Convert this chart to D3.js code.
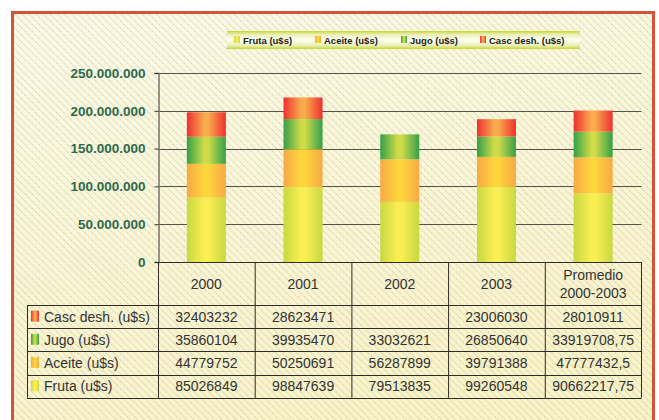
<!DOCTYPE html>
<html>
<head>
  <script src="https://d3js.org/d3.v7.min.js"></script>
  <style>
    body { margin: 0; background: #fff; }
    text { font-family: "Liberation Sans", Arial, sans-serif; }
  </style>
</head>
<body>
  <svg id="chart" width="659" height="420"></svg>
  <script>
    // datos
    const categories = ["2000", "2001", "2002", "2003", "Promedio 2000-2003"];
    const seriesNames = ["Fruta (u$s)", "Aceite (u$s)", "Jugo (u$s)", "Casc desh. (u$s)"];
    const fruta = [85026849, 98847639, 79513835, 99260548, 90662217.75];
    const aceite = [44779752, 50250691, 56287899, 39791388, 47777432.5];
    const jugo = [35860104, 39935470, 33032621, 26850640, 33919708.75];
    const casc = [32403232, 28623471, null, 23006030, 28010911];
    const yTicks = [0, 50000000, 100000000, 150000000, 200000000, 250000000];
    const yTickLabels = ["0", "50.000.000", "100.000.000", "150.000.000", "200.000.000", "250.000.000"];

    const seriesValues = [fruta, aceite, jugo, casc];
    // colores de degradado: borde, centro
    const colors = [
      ["#c9d83f", "#f9ef55"],
      ["#f8a944", "#fcd63c"],
      ["#35a04a", "#cfdc48"],
      ["#ee2f32", "#f9ac4c"]
    ];

    const svg = d3.select("#chart");
    const defs = svg.append("defs");

    // fondo
    const bg = defs.append("linearGradient").attr("id", "bg")
      .attr("x1", 0).attr("y1", 0).attr("x2", 0.3).attr("y2", 1);
    bg.append("stop").attr("offset", 0).attr("stop-color", "#fbf9e6");
    bg.append("stop").attr("offset", 1).attr("stop-color", "#f9f3c8");

    const hatch = defs.append("pattern").attr("id", "hatch")
      .attr("patternUnits", "userSpaceOnUse")
      .attr("width", 5).attr("height", 5)
      .attr("patternTransform", "rotate(-45)");
    hatch.append("line").attr("x1", 0).attr("y1", 0).attr("x2", 0).attr("y2", 5)
      .attr("stroke", "#b4b09c").attr("stroke-width", 1)
      .attr("stroke-dasharray", "1.2,0.8");

    colors.forEach((c, i) => {
      const g = defs.append("linearGradient").attr("id", "grad" + i)
        .attr("x1", 0).attr("x2", 1).attr("y1", 0).attr("y2", 0);
      g.append("stop").attr("offset", 0).attr("stop-color", c[0]);
      g.append("stop").attr("offset", 0.45).attr("stop-color", c[1]);
      g.append("stop").attr("offset", 0.55).attr("stop-color", c[1]);
      g.append("stop").attr("offset", 1).attr("stop-color", c[0]);
    });

    const legBg = defs.append("linearGradient").attr("id", "legbg")
      .attr("x1", 0).attr("x2", 0).attr("y1", 0).attr("y2", 1);
    legBg.append("stop").attr("offset", 0).attr("stop-color", "#c8d52e");
    legBg.append("stop").attr("offset", 0.18).attr("stop-color", "#e8eeb0");
    legBg.append("stop").attr("offset", 0.5).attr("stop-color", "#fffff4");
    legBg.append("stop").attr("offset", 0.82).attr("stop-color", "#e8eeb0");
    legBg.append("stop").attr("offset", 1).attr("stop-color", "#c8d52e");

    svg.append("rect").attr("x", 12).attr("y", 12).attr("width", 642).attr("height", 420)
      .attr("fill", "url(#bg)");
    svg.append("rect").attr("x", 12).attr("y", 12).attr("width", 642).attr("height", 420)
      .attr("fill", "url(#hatch)");
    svg.append("path").attr("d", "M12.5,430 V12.5 H653.5 V430")
      .attr("fill", "none").attr("stroke", "#d6533a").attr("stroke-width", 3);

    // escalas
    const plotLeft = 158, plotRight = 641.5, plotTop = 73, plotBottom = 262;
    const x = d3.scaleBand().domain(categories).range([plotLeft, plotRight]).padding(0);
    const y = d3.scaleLinear().domain([0, 250000000]).range([plotBottom, plotTop]);
    const barW = 39;

    // grilla
    svg.append("g").selectAll("line").data(yTicks.slice(1)).join("line")
      .attr("x1", plotLeft).attr("x2", plotRight)
      .attr("y1", d => Math.round(y(d)) + 0.5).attr("y2", d => Math.round(y(d)) + 0.5)
      .attr("stroke", "#55524b").attr("stroke-width", 1.2);

    // barras
    const table = categories.map((c, i) => {
      const row = { cat: c };
      seriesNames.forEach((s, j) => row[s] = seriesValues[j][i] || 0);
      return row;
    });
    const stacked = d3.stack().keys(seriesNames)(table);
    svg.append("g").selectAll("g").data(stacked).join("g")
      .attr("fill", (d, i) => `url(#grad${i})`)
      .selectAll("rect").data(d => d).join("rect")
      .attr("x", d => x(d.data.cat) + (x.bandwidth() - barW) / 2)
      .attr("width", barW)
      .attr("y", d => y(d[1]))
      .attr("height", d => y(d[0]) - y(d[1]));

    // eje y
    const yAxis = svg.append("g").attr("transform", `translate(${plotLeft + 0.5},0)`)
      .call(d3.axisLeft(y).tickValues(yTicks).tickSize(4).tickPadding(9)
        .tickFormat((d, i) => yTickLabels[i]));
    yAxis.select(".domain").attr("stroke", "#77746a").attr("stroke-width", 1.5);
    yAxis.selectAll(".tick line").attr("stroke", "#333");
    yAxis.selectAll(".tick text").attr("fill", "#2d6a4d")
      .style("font-size", "13.5px").style("font-weight", "bold")
      .style("font-family", "'Liberation Sans', Arial, sans-serif");

    // tabla de datos
    const tLeft = 27, headBottom = 305, rowH = 23.2;
    const rowSeries = [3, 2, 1, 0];
    const lineC = "#2e2c28";
    const tg = svg.append("g");
    // encabezado
    tg.append("line").attr("x1", plotLeft).attr("x2", plotRight).attr("y1", plotBottom + 0.5).attr("y2", plotBottom + 0.5)
      .attr("stroke", lineC);
    categories.forEach(c => {
      tg.append("line").attr("x1", x(c) + 0.5).attr("x2", x(c) + 0.5)
        .attr("y1", plotBottom).attr("y2", headBottom + rowH * 4).attr("stroke", lineC);
      const t = tg.append("text").attr("x", x(c) + x.bandwidth() / 2).attr("text-anchor", "middle")
        .attr("fill", "#333").style("font-size", "14px");
      if (c.startsWith("Promedio")) {
        t.append("tspan").attr("x", x(c) + x.bandwidth() / 2).attr("y", 280).text("Promedio");
        t.append("tspan").attr("x", x(c) + x.bandwidth() / 2).attr("y", 298).text("2000-2003");
      } else {
        t.attr("y", 289).text(c);
      }
    });
    tg.append("line").attr("x1", plotRight).attr("x2", plotRight)
      .attr("y1", plotBottom).attr("y2", headBottom + rowH * 4).attr("stroke", lineC);
    tg.append("line").attr("x1", tLeft + 0.5).attr("x2", tLeft + 0.5)
      .attr("y1", headBottom).attr("y2", headBottom + rowH * 4).attr("stroke", lineC);
    for (let r = 0; r <= 4; r++) {
      const yy = Math.round(headBottom + rowH * r) + 0.5;
      tg.append("line").attr("x1", tLeft).attr("x2", plotRight).attr("y1", yy).attr("y2", yy)
        .attr("stroke", lineC);
    }
    rowSeries.forEach((s, r) => {
      const cy = headBottom + rowH * r + rowH / 2;
      tg.append("rect").attr("x", 31).attr("y", cy - 6).attr("width", 8).attr("height", 11)
        .attr("fill", `url(#grad${s})`);
      tg.append("text").attr("x", 44).attr("y", cy + 5).attr("fill", "#333")
        .style("font-size", "14px").text(seriesNames[s]);
      categories.forEach((c, i) => {
        const v = seriesValues[s][i];
        if (v == null) return;
        tg.append("text").attr("x", x(c) + x.bandwidth() / 2).attr("y", cy + 5)
          .attr("text-anchor", "middle").attr("fill", "#333").style("font-size", "14px")
          .text(String(v).replace(".", ","));
      });
    });

    // leyenda
    const leg = svg.append("g");
    leg.append("rect").attr("x", 227).attr("y", 31).attr("width", 353).attr("height", 18)
      .attr("fill", "url(#legbg)");
    const legX = [234, 315, 401, 480];
    seriesNames.forEach((s, i) => {
      leg.append("rect").attr("x", legX[i]).attr("y", 36).attr("width", 6).attr("height", 7)
        .attr("fill", `url(#grad${i})`);
      leg.append("text").attr("x", legX[i] + 9).attr("y", 43.5).attr("fill", "#222")
        .style("font-size", "9.5px").style("font-weight", "bold").text(s);
    });
  </script>
</body>
</html>
